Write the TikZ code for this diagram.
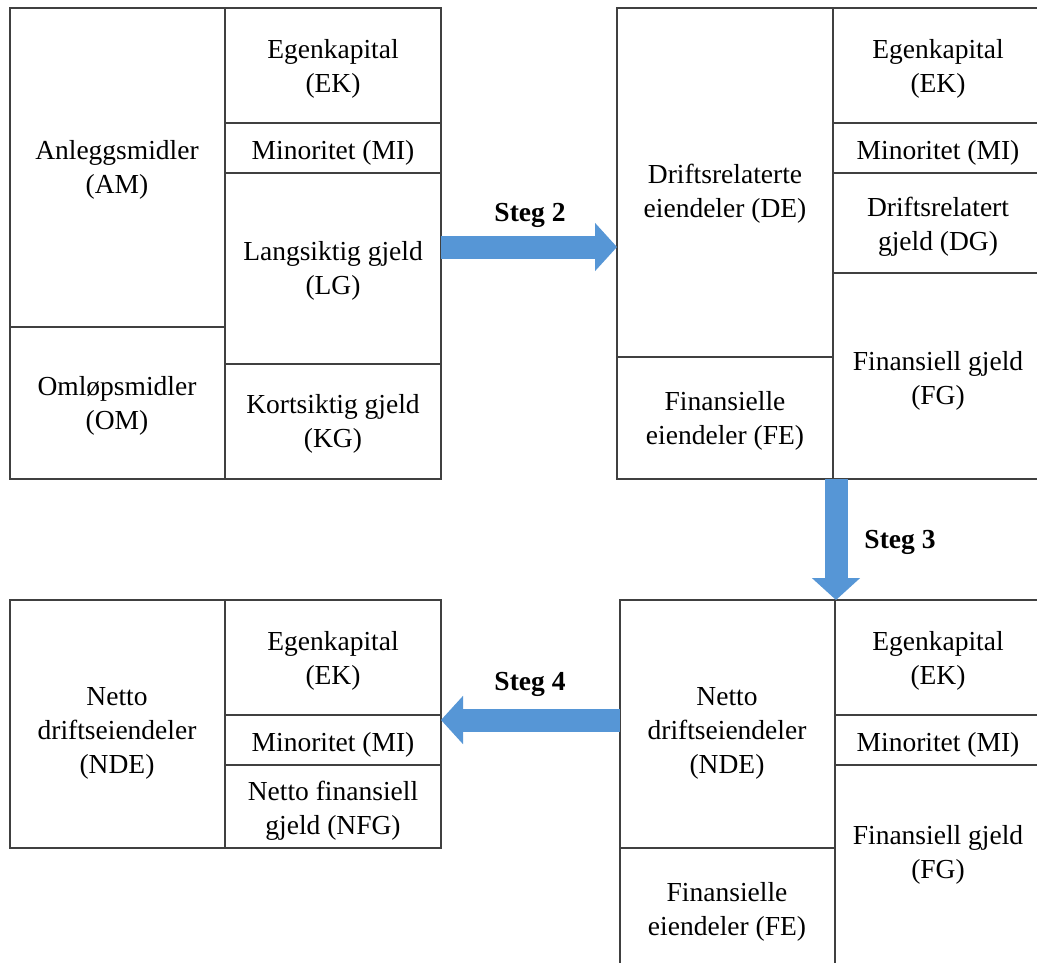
\documentclass[tikz,border=0pt]{standalone}
\usepackage{fontspec}
\setmainfont{Liberation Serif}
\usetikzlibrary{arrows.meta}
\definecolor{rule}{HTML}{404040}
\definecolor{stepblue}{RGB}{86,150,214}
\begin{document}
\begin{tikzpicture}[x=1pt,y=-1pt,
  frame/.style={draw=rule,line width=1.6pt},
  cell/.style={inner sep=0pt,align=center,yshift=-3pt,font=\fontsize{27.5}{34}\selectfont},
  steplabel/.style={inner sep=0pt,yshift=-2pt,font=\fontsize{27.5}{34}\selectfont\bfseries},
  steparrow/.style={draw=stepblue,line width=23pt,-{Triangle[width=47pt,length=22pt]}}]
\clip (0,0) rectangle (1037,962);
\fill[white] (0,0) rectangle (1037,962);

% Balance sheet (top left)
\draw[frame] (10,8) rectangle (441,479);
\draw[frame] (225,8) -- (225,479);
\draw[frame] (10,327) -- (225,327);
\draw[frame] (225,123) -- (441,123);
\draw[frame] (225,173) -- (441,173);
\draw[frame] (225,364) -- (441,364);
\node[cell] (am) at (117,167) {Anleggsmidler\\(AM)};
\node[cell] (om) at (117,403) {Omløpsmidler\\(OM)};
\node[cell] (ek1) at (333,66) {Egenkapital\\(EK)};
\node[cell] (mi1) at (333,150) {Minoritet (MI)};
\node[cell] (lg) at (333,268) {Langsiktig gjeld\\(LG)};
\node[cell] (kg) at (333,421) {Kortsiktig gjeld\\(KG)};

% Operating / financial split (top right)
\draw[frame] (1045,8) -- (617,8) -- (617,479) -- (1045,479);
\draw[frame] (833,8) -- (833,479);
\draw[frame] (617,357) -- (833,357);
\draw[frame] (833,123) -- (1045,123);
\draw[frame] (833,173) -- (1045,173);
\draw[frame] (833,273) -- (1045,273);
\node[cell] (de) at (725,191) {Driftsrelaterte\\eiendeler (DE)};
\node[cell] (fe2) at (725,418) {Finansielle\\eiendeler (FE)};
\node[cell] (ek2) at (938,66) {Egenkapital\\(EK)};
\node[cell] (mi2) at (938,150) {Minoritet (MI)};
\node[cell] (dg) at (938,224) {Driftsrelatert\\gjeld (DG)};
\node[cell] (fg2) at (938,378) {Finansiell gjeld\\(FG)};

% Net operating assets (bottom right)
\draw[frame] (1045,600) -- (620,600) -- (620,970);
\draw[frame] (835,600) -- (835,970);
\draw[frame] (620,848) -- (835,848);
\draw[frame] (835,715) -- (1045,715);
\draw[frame] (835,765) -- (1045,765);
\node[cell] (nde3) at (727,730) {Netto\\driftseiendeler\\(NDE)};
\node[cell] (fe3) at (727,909) {Finansielle\\eiendeler (FE)};
\node[cell] (ek3) at (938,658) {Egenkapital\\(EK)};
\node[cell] (mi3) at (938,742) {Minoritet (MI)};
\node[cell] (fg3) at (938,852) {Finansiell gjeld\\(FG)};

% Net financial debt (bottom left)
\draw[frame] (10,600) rectangle (441,848);
\draw[frame] (225,600) -- (225,848);
\draw[frame] (225,715) -- (441,715);
\draw[frame] (225,765) -- (441,765);
\node[cell] (nde4) at (117,730) {Netto\\driftseiendeler\\(NDE)};
\node[cell] (ek4) at (333,658) {Egenkapital\\(EK)};
\node[cell] (mi4) at (333,742) {Minoritet (MI)};
\node[cell] (nfg) at (333,808) {Netto finansiell\\gjeld (NFG)};

% Step arrows between the blocks
\coordinate (s2a) at (441,247);
\coordinate (s2b) at (617,247);
\coordinate (s3a) at (836,479);
\coordinate (s3b) at (836,600);
\coordinate (s4a) at (620,720);
\coordinate (s4b) at (441,720);
\draw[steparrow] (s2a) -- (s2b);
\draw[steparrow] (s3a) -- (s3b);
\draw[steparrow] (s4a) -- (s4b);
\node[steplabel] (steg2) at (530,213) {Steg 2};
\node[steplabel] (steg3) at (900,540) {Steg 3};
\node[steplabel] (steg4) at (530,682) {Steg 4};
\end{tikzpicture}
\end{document}
